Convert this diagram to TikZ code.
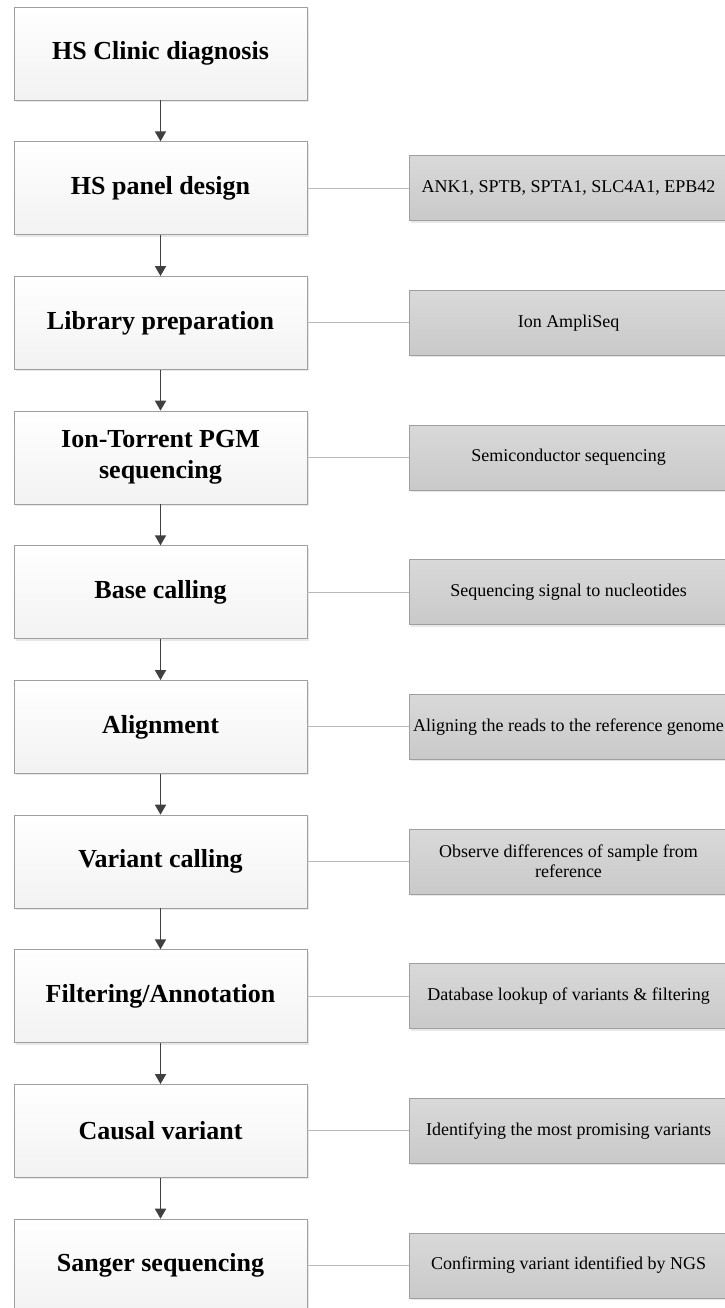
\documentclass[tikz,border=0pt]{standalone}
\usepackage{fontspec}
\setmainfont{Liberation Serif}
\usetikzlibrary{arrows.meta,shadows}

\tikzset{
  stage/.style={draw=gray!75, line width=0.6pt, top color=white, bottom color=gray!10,
    minimum width=293pt, minimum height=93pt, inner sep=2pt, align=center,
    font=\fontsize{26}{31}\selectfont\bfseries,
    drop shadow={opacity=0.18, shadow xshift=2pt, shadow yshift=-2pt}},
  detail/.style={draw=gray!75, line width=0.6pt, top color=gray!30, bottom color=gray!42,
    minimum width=319pt, minimum height=65pt, inner sep=2pt, align=center,
    font=\fontsize{18}{20}\selectfont,
    drop shadow={opacity=0.18, shadow xshift=2pt, shadow yshift=-2pt}},
  flow/.style={draw=black!75, line width=1.7pt, -{Triangle[width=11pt,length=10pt]}},
  link/.style={draw=gray!55, line width=0.8pt}
}

\begin{document}
\begin{tikzpicture}[x=1pt,y=-1pt]
  \useasboundingbox (0,0) rectangle (724,1308);
  % --- pipeline stages ---
  \foreach \i/\txt in {0/{HS Clinic diagnosis}, 1/{HS panel design}, 2/{Library preparation},
      3/{Ion-Torrent PGM\\sequencing}, 4/{Base calling}, 5/{Alignment}, 6/{Variant calling},
      7/{Filtering/Annotation}, 8/{Causal variant}, 9/{Sanger sequencing}}
    \node[stage] (stage\i) at (160.5,53.5+134.67*\i) {\txt};
  % --- notes on the right ---
  \foreach \i/\txt in {1/{ANK1, SPTB, SPTA1, SLC4A1, EPB42}, 2/{Ion AmpliSeq},
      3/{Semiconductor sequencing}, 4/{Sequencing signal to nucleotides},
      5/{Aligning the reads to the reference genome},
      6/{Observe differences of sample from\\reference},
      7/{Database lookup of variants \& filtering},
      8/{Identifying the most promising variants},
      9/{Confirming variant identified by NGS}}
    \node[detail] (note\i) at (568.5,53.5+134.67*\i) {\txt};
  % --- connectors ---
  \foreach \i in {0,...,8} {
    \pgfmathtruncatemacro\j{\i+1}
    \draw[flow] (stage\i.south) -- (stage\j.north);
  }
  \foreach \i in {1,...,9} \draw[link] (stage\i.east) -- (note\i.west);
\end{tikzpicture}
\end{document}
